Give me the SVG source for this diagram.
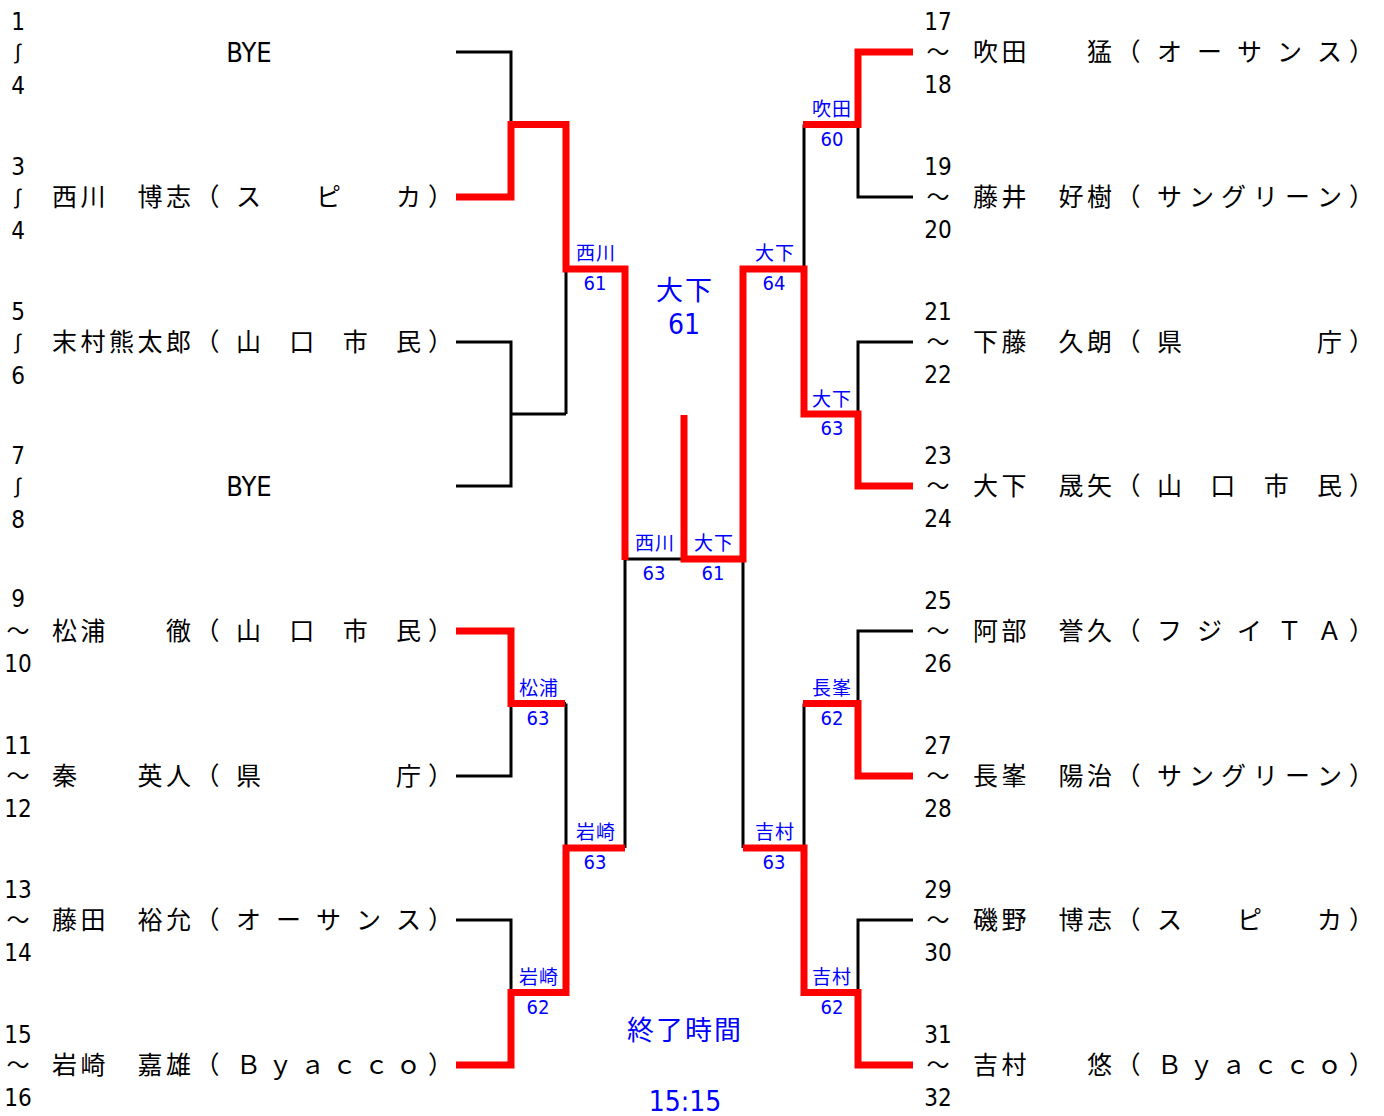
<svg xmlns="http://www.w3.org/2000/svg" width="1384" height="1116" viewBox="0 0 1384 1116">
<style>
.nm{font-family:"Noto Sans CJK JP","Noto Sans CJK SC",sans-serif;font-size:25px;fill:#000}
.num{font-family:"Liberation Sans Narrow","DejaVu Sans Condensed","Liberation Sans",sans-serif;font-size:24px;fill:#000;text-anchor:middle}
.wv{font-family:"Liberation Sans","DejaVu Sans",sans-serif;font-size:21px;fill:#000;text-anchor:middle}
.tl{font-family:"Noto Sans CJK JP",sans-serif;font-size:23px;fill:#000;text-anchor:middle}
.bye{font-family:"Liberation Sans Narrow","DejaVu Sans Condensed","Liberation Sans",sans-serif;font-size:27px;fill:#000;text-anchor:middle}
.lbl{font-family:"Noto Sans CJK JP",sans-serif;font-size:19px;fill:#0000ff;text-anchor:middle;letter-spacing:1px}
.sc{font-family:"Liberation Sans Narrow","DejaVu Sans Condensed","Liberation Sans",sans-serif;font-size:20px;fill:#0000ff;text-anchor:middle}
.big{font-family:"Noto Sans CJK JP",sans-serif;font-size:27px;fill:#0000ff;text-anchor:middle;letter-spacing:2px}
.bigsc{font-family:"Liberation Sans Narrow","DejaVu Sans Condensed","Liberation Sans",sans-serif;font-size:28px;fill:#0000ff;text-anchor:middle}
.bk{stroke:#000;stroke-width:3;fill:none}
.rd{stroke:#ff0000;stroke-width:7;fill:none;stroke-linejoin:miter;stroke-linecap:butt}
</style>

<g id="connectors">
  <path class="bk" d="M456,52 H511 V197 H456 M511,124.5 H566 M456,342 H511 V486 H456 M511,414 H566 M456,631 H511 V776 H456 M511,703.5 H566 M456,920 H511 V1065 H456 M511,992.5 H566"/>
  <path class="bk" d="M566,124.5 V414 M566,269 H625 M566,703.5 V992.5 M566,848 H625 M625,269 V848 M625,559 H684"/>
  <path class="bk" d="M684,559 H743 M743,269 V848 M743,269 H804 M743,848 H804 M804,124.5 V414 M804,703.5 V992.5"/>
  <path class="bk" d="M913,52 H858 V197 H913 M858,124.5 H804 M913,342 H858 V486 H913 M858,414 H804 M913,631 H858 V776 H913 M858,703.5 H804 M913,920 H858 V1065 H913 M858,992.5 H804"/>
  <path class="rd" d="M456,197 H511 V124.5 H566 V269 H625 V560"/>
  <path class="rd" d="M456,631 H511 V703.5 H565"/>
  <path class="rd" d="M456,1065 H511 V992.5 H566 V848 H625"/>
  <path class="rd" d="M684,415 V559 H743 V269 H804 V414 H858 V486 H913"/>
  <path class="rd" d="M913,52 H858 V124.5 H803"/>
  <path class="rd" d="M913,776 H858 V703.5 H803"/>
  <path class="rd" d="M913,1065 H858 V992.5 H804 V848 H743"/>
</g>

<g id="scores">
  <text class="lbl" x="832" y="116">吹田</text><text class="sc" x="832" y="146">60</text>
  <text class="lbl" x="832" y="406">大下</text><text class="sc" x="832" y="435">63</text>
  <text class="lbl" x="832" y="695">長峯</text><text class="sc" x="832" y="725">62</text>
  <text class="lbl" x="832" y="984">吉村</text><text class="sc" x="832" y="1014">62</text>
  <text class="lbl" x="775" y="260">大下</text><text class="sc" x="774" y="290">64</text>
  <text class="lbl" x="775" y="839">吉村</text><text class="sc" x="774" y="869">63</text>
  <text class="lbl" x="714" y="550">大下</text><text class="sc" x="713" y="580">61</text>
  <text class="lbl" x="655" y="550">西川</text><text class="sc" x="654" y="580">63</text>
  <text class="lbl" x="596" y="260">西川</text><text class="sc" x="595" y="290">61</text>
  <text class="lbl" x="596" y="839">岩崎</text><text class="sc" x="595" y="869">63</text>
  <text class="lbl" x="539" y="695">松浦</text><text class="sc" x="538" y="725">63</text>
  <text class="lbl" x="539" y="984">岩崎</text><text class="sc" x="538" y="1014">62</text>
</g>

<g id="champion">
  <text class="big" x="685" y="300">大下</text>
  <text class="bigsc" x="684" y="334">61</text>
</g>
<g id="endtime">
  <text class="big" x="685" y="1040">終了時間</text>
  <text class="bigsc" x="685" y="1111">15:15</text>
</g>

<g id="p1"><text class="num" x="18" y="30">1</text><text class="wv" x="18" y="59">∫</text><text class="num" x="18" y="94">4</text><text class="bye" x="249" y="62">BYE</text></g>
<g id="p2"><text class="num" x="18" y="175">3</text><text class="wv" x="18" y="204">∫</text><text class="num" x="18" y="239">4</text><text class="nm" y="206" x="52 80.5 137.5 166 194.5 236 316 396 428">西川博志（スピカ）</text></g>
<g id="p3"><text class="num" x="18" y="320">5</text><text class="wv" x="18" y="349">∫</text><text class="num" x="18" y="384">6</text><text class="nm" y="351" x="52 80.5 109 137.5 166 194.5 236 289.3 342.7 396 428">末村熊太郎（山口市民）</text></g>
<g id="p4"><text class="num" x="18" y="464">7</text><text class="wv" x="18" y="493">∫</text><text class="num" x="18" y="528">8</text><text class="bye" x="249" y="496">BYE</text></g>
<g id="p5"><text class="num" x="18" y="607">9</text><text class="tl" x="18" y="639">～</text><text class="num" x="18" y="672">10</text><text class="nm" y="640" x="52 80.5 166 194.5 236 289.3 342.7 396 428">松浦徹（山口市民）</text></g>
<g id="p6"><text class="num" x="18" y="754">11</text><text class="tl" x="18" y="784">～</text><text class="num" x="18" y="817">12</text><text class="nm" y="785" x="52 137.5 166 194.5 236 396 428">秦英人（県庁）</text></g>
<g id="p7"><text class="num" x="18" y="898">13</text><text class="tl" x="18" y="928">～</text><text class="num" x="18" y="961">14</text><text class="nm" y="929" x="52 80.5 137.5 166 194.5 236 276 316 356 396 428">藤田裕允（オーサンス）</text></g>
<g id="p8"><text class="num" x="18" y="1043">15</text><text class="tl" x="18" y="1073">～</text><text class="num" x="18" y="1106">16</text><text class="nm" y="1074" x="52 80.5 137.5 166 194.5 236 268 300 332 364 396 428">岩崎嘉雄（Ｂｙａｃｃｏ）</text></g>

<g id="p9"><text class="num" x="938" y="30">17</text><text class="tl" x="938" y="60">～</text><text class="num" x="938" y="93">18</text><text class="nm" y="61" x="973 1001.5 1087 1115.5 1157 1197 1237 1277 1317 1349">吹田猛（オーサンス）</text></g>
<g id="p10"><text class="num" x="938" y="175">19</text><text class="tl" x="938" y="205">～</text><text class="num" x="938" y="238">20</text><text class="nm" y="206" x="973 1001.5 1058.5 1087 1115.5 1157 1189 1221 1253 1285 1317 1349">藤井好樹（サングリーン）</text></g>
<g id="p11"><text class="num" x="938" y="320">21</text><text class="tl" x="938" y="350">～</text><text class="num" x="938" y="383">22</text><text class="nm" y="351" x="973 1001.5 1058.5 1087 1115.5 1157 1317 1349">下藤久朗（県庁）</text></g>
<g id="p12"><text class="num" x="938" y="464">23</text><text class="tl" x="938" y="494">～</text><text class="num" x="938" y="527">24</text><text class="nm" y="495" x="973 1001.5 1058.5 1087 1115.5 1157 1210.3 1263.7 1317 1349">大下晟矢（山口市民）</text></g>
<g id="p13"><text class="num" x="938" y="609">25</text><text class="tl" x="938" y="639">～</text><text class="num" x="938" y="672">26</text><text class="nm" y="640" x="973 1001.5 1058.5 1087 1115.5 1157 1197 1237 1277 1317 1349">阿部誉久（フジイＴＡ）</text></g>
<g id="p14"><text class="num" x="938" y="754">27</text><text class="tl" x="938" y="784">～</text><text class="num" x="938" y="817">28</text><text class="nm" y="785" x="973 1001.5 1058.5 1087 1115.5 1157 1189 1221 1253 1285 1317 1349">長峯陽治（サングリーン）</text></g>
<g id="p15"><text class="num" x="938" y="898">29</text><text class="tl" x="938" y="928">～</text><text class="num" x="938" y="961">30</text><text class="nm" y="929" x="973 1001.5 1058.5 1087 1115.5 1157 1237 1317 1349">磯野博志（スピカ）</text></g>
<g id="p16"><text class="num" x="938" y="1043">31</text><text class="tl" x="938" y="1073">～</text><text class="num" x="938" y="1106">32</text><text class="nm" y="1074" x="973 1001.5 1087 1115.5 1157 1189 1221 1253 1285 1317 1349">吉村悠（Ｂｙａｃｃｏ）</text></g>
</svg>
